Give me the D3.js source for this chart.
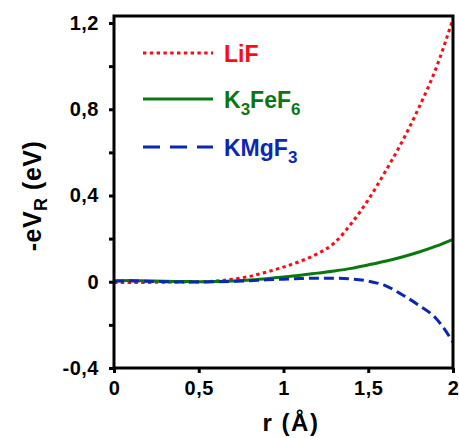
<!DOCTYPE html>
<html>
<head>
<meta charset="utf-8">
<script src="https://cdn.jsdelivr.net/npm/d3@7"></script>
<style>
  body { margin: 0; background: #fff; }
  text { font-family: "Liberation Sans", Arial, sans-serif; font-weight: bold; }
</style>
</head>
<body>
<svg id="chart" width="459" height="438"></svg>
<script>
// ---------------------------------------------------------------------------
// data
const rValues = [0, 0.1, 0.2, 0.3, 0.4, 0.5, 0.6, 0.7, 0.8, 0.9, 1.0,
                 1.1, 1.2, 1.3, 1.4, 1.5, 1.6, 1.7, 1.8, 1.9, 2.0];

const lif    = [-0.004, -0.004, -0.003, -0.002, -0.001, 0, 0.003, 0.012, 0.025, 0.045, 0.068,
                0.095, 0.13, 0.18, 0.27, 0.38, 0.51, 0.65, 0.81, 0.99, 1.22];
const k3fef6 = [0.004, 0.006, 0.004, 0.002, 0.001, 0, 0.001, 0.003, 0.008, 0.014, 0.022,
                0.03, 0.04, 0.05, 0.062, 0.078, 0.095, 0.115, 0.138, 0.165, 0.197];
const kmgf3  = [0.003, 0.004, 0.002, 0, -0.001, -0.001, 0, 0.002, 0.005, 0.009, 0.012,
                0.015, 0.016, 0.016, 0.013, 0.003, -0.018, -0.06, -0.11, -0.17, -0.28];

const xTicks = [0, 0.5, 1, 1.5, 2];
const xTickLabels = ['0', '0,5', '1', '1,5', '2'];
const yTicks = [-0.4, -0.2, 0, 0.2, 0.4, 0.6, 0.8, 1.0, 1.2];
const yTickLabels = ['-0,4', '', '0', '', '0,4', '', '0,8', '', '1,2'];

const series = [
  {name: 'LiF',  sub: [], values: lif,    color: '#ff0a14', dash: '3.4,3.4', legendDash: '3.4,3.4'},
  {name: 'K3FeF6', sub: [['K', ''], ['3', 'sub'], ['FeF', ''], ['6', 'sub']], values: k3fef6, color: '#0b780f', dash: null, legendDash: null},
  {name: 'KMgF3', sub: [['KMgF', ''], ['3', 'sub']], values: kmgf3, color: '#0a28b4', dash: '10,5', legendDash: '17,10'}
];

// ---------------------------------------------------------------------------
const svg = d3.select('#chart');
const pLeft = 114, pRight = 453, pTop = 16, pBottom = 368;

let x = d3.scaleLinear().domain([0, 2]).range([pLeft, pRight]);
let y = d3.scaleLinear().domain([-0.4, 1.2]).range([pBottom, 23]);

svg.append('clipPath').attr('id', 'clip')
  .append('rect').attr('x', pLeft).attr('y', pTop)
  .attr('width', pRight - pLeft).attr('height', pBottom - pTop);

// curves
let line = d3.line()
  .x((d, i) => x(rValues[i]))
  .y(d => y(d))
  .curve(d3.curveMonotoneX);

series.forEach(function (s) {
  svg.append('path')
    .attr('clip-path', 'url(#clip)')
    .attr('d', line(s.values))
    .attr('fill', 'none')
    .attr('stroke', s.color)
    .attr('stroke-width', 3)
    .attr('stroke-dasharray', s.dash);
});

// axes
let yAxis = d3.axisLeft(y).tickValues(yTicks)
  .tickFormat((d, i) => yTickLabels[i]).tickSize(5).tickPadding(10);
let xAxis = d3.axisBottom(x).tickValues(xTicks)
  .tickFormat((d, i) => xTickLabels[i]).tickSize(5).tickPadding(8);

let ga = svg.append('g').attr('transform', `translate(${pLeft},0)`).call(yAxis);
let gb = svg.append('g').attr('transform', `translate(0,${pBottom})`).call(xAxis);

[ga, gb].forEach(function (g) {
  g.select('.domain').remove();
  g.selectAll('line').attr('stroke', '#000').attr('stroke-width', 3);
  g.selectAll('text').attr('fill', '#000')
    .style('font-size', '20px').style('letter-spacing', '0.5px')
    .style('font-family', '"Liberation Sans", Arial, sans-serif')
    .style('font-weight', 'bold');
});

// frame
svg.append('rect')
  .attr('x', pLeft).attr('y', pTop)
  .attr('width', pRight - pLeft).attr('height', pBottom - pTop)
  .attr('fill', 'none').attr('stroke', '#000').attr('stroke-width', 3);

// axis titles
svg.append('text')
  .attr('x', 291).attr('y', 431)
  .attr('text-anchor', 'middle')
  .style('font-size', '24px').style('letter-spacing', '1.5px')
  .text('r (Å)');

let yl = svg.append('text')
  .attr('transform', 'translate(41,196) rotate(-90)')
  .attr('text-anchor', 'middle')
  .style('font-size', '25px').style('letter-spacing', '0.5px');
yl.append('tspan').text('-eV');
yl.append('tspan').attr('dy', 6).style('font-size', '18px').text('R');
yl.append('tspan').attr('dy', -6).text(' (eV)');

// legend
let legendY = [53, 99, 147];
series.forEach(function (s, i) {
  let ly = legendY[i];
  svg.append('line')
    .attr('x1', 143).attr('x2', 213).attr('y1', ly).attr('y2', ly)
    .attr('stroke', s.color).attr('stroke-width', 3)
    .attr('stroke-dasharray', s.legendDash);

  let t = svg.append('text')
    .attr('x', 224).attr('y', ly + 8.5)
    .attr('fill', s.color)
    .style('font-size', '23px');

  if (s.sub.length == 0) {
    t.text(s.name);
  } else {
    let shifted = false;
    s.sub.forEach(function (p) {
      let sp = t.append('tspan').text(p[0]);
      if (p[1] == 'sub') {
        sp.attr('dy', shifted ? 0 : 7).style('font-size', '17px');
        shifted = true;
      } else if (shifted) {
        sp.attr('dy', -7);
        shifted = false;
      }
    });
  }
});
</script>
</body>
</html>
